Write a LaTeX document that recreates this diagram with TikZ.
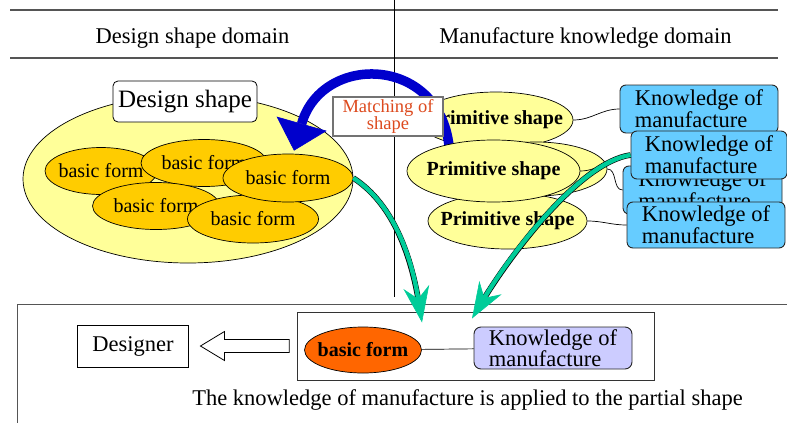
\documentclass[tikz,border=0pt]{standalone}
\usepackage{fontspec}
\setmainfont{Liberation Serif}
\usetikzlibrary{arrows.meta,shapes.geometric,calc}
\definecolor{paleyel}{HTML}{FFFF99}
\definecolor{formyel}{HTML}{FFCC00}
\definecolor{formorg}{HTML}{FF6600}
\definecolor{knowblu}{HTML}{66CCFF}
\definecolor{knowlav}{HTML}{CCCCFF}
\definecolor{matchblu}{HTML}{0000CC}
\definecolor{applygrn}{HTML}{00CC99}
\definecolor{matchred}{HTML}{DD4A1E}
\definecolor{rulegray}{HTML}{555555}
\pgfdeclarelayer{front}
\pgfsetlayers{main,front}

\begin{document}
\begin{tikzpicture}[x=1pt, y=-1pt,
  every node/.style={inner sep=0pt},
  lbl/.style={font=\fontsize{22.5}{18.5}\selectfont},
  hdrrule/.style={draw=rulegray, line width=1.2pt},
  formell/.style={ellipse, draw, line width=0.7pt, fill=formyel, inner xsep=-25pt,
                  font=\fontsize{20}{20}\selectfont},
  primell/.style={ellipse, draw, line width=0.7pt, fill=paleyel, inner xsep=-25pt,
                  font=\fontsize{20}{20}\selectfont\bfseries},
  knowbox/.style={rectangle, rounded corners=6pt, draw=black!85, line width=0.9pt,
                  fill=knowblu, align=left, minimum width=158pt, minimum height=48pt, lbl},
  link/.style={draw, line width=0.7pt},
  matchflow/.style={draw=matchblu, line width=9.5pt,
                    -{Triangle[length=28pt,width=52pt,line width=0.6pt]}},
  applyflow/.style={draw=applygrn, line width=4.4pt,
                    -{Stealth[length=36pt,width=26pt,inset=12pt,line width=0.6pt]},
                    preaction={draw=black, line width=5.6pt, -, shorten >=18pt}},
]
\useasboundingbox (0,0) rectangle (787,423);

% ---- domain header ----
\draw[hdrrule] (10,10) -- (778,10);
\draw[hdrrule] (10,58) -- (778,58);
\node[lbl, anchor=base] (dsdom) at (192.5,43) {Design shape domain};
\node[lbl, anchor=base] (mkdom) at (585.5,43) {Manufacture knowledge domain};
\draw[line width=0.8pt] (394,0) -- (394,297);

% ---- design shape made of basic forms ----
\node[ellipse, draw, line width=0.7pt, fill=paleyel, minimum width=330pt,
      minimum height=168pt] (dshape) at (188,179) {};
\node[draw, rounded corners=5pt, line width=0.8pt, fill=white, minimum width=144pt,
      minimum height=41pt, font=\fontsize{25}{25}\selectfont] (dlabel) at (185,101.5) {Design shape};
\node[formell, minimum width=112pt, minimum height=47pt] (bf1) at (101,171) {basic form};
\node[formell, minimum width=126pt, minimum height=47pt] (bf2) at (204,163) {basic form};
\node[formell, minimum width=127pt, minimum height=47pt] (bf4) at (156,206) {basic form};
\node[formell, minimum width=131pt, minimum height=48pt] (bf5) at (253,219) {basic form};
\node[formell, minimum width=130pt, minimum height=48pt] (bf3) at (288,178) {basic form};

% ---- primitive shapes and their knowledge ----
\node[primell, minimum width=154pt, minimum height=56pt] (prim1) at (496,120) {Primitive shape};
\node[primell, minimum width=142pt, minimum height=54pt] (prim2b) at (536,169) {};
\node[primell, minimum width=159pt, minimum height=56pt] (prim3) at (507.5,221) {Primitive shape};

\node[knowbox] (know1) at (699,109) {Knowledge of\\manufacture};
\node[knowbox, minimum width=159pt] (know3) at (702.5,190) {Knowledge of\\manufacture};
\node[knowbox, minimum width=156pt] (know2) at (709,155) {Knowledge of\\manufacture};
\node[knowbox, minimum height=46pt] (know4) at (706,225) {Knowledge of\\manufacture};

\begin{pgfonlayer}{front}
  \node[primell, minimum width=173pt, minimum height=62pt] (prim2) at (493.5,171) {Primitive shape};
  \node[draw=black!55, line width=1.2pt, fill=white, minimum width=110pt, minimum height=39pt,
        align=center, text=matchred, font=\fontsize{18.5}{14}\selectfont] (match) at (388,116.5)
        {Matching of\\shape};
\end{pgfonlayer}

\draw[link] (prim1.east) to[out=0, in=180] (know1.west);
\draw[link] (prim2.east) to[out=0, in=180] (know2.west);
\draw[link] (prim2b.east) to[out=0, in=180] (know3.west);
\draw[link] (prim3.east) to[out=0, in=180] (know4.west);

% ---- matching: primitive shape -> basic form ----
\draw[matchflow] ($(prim2.center)+(-44,-20)$) .. controls (443,55) and (322,52) .. ($(bf3.north)+(6,-3)$);

% ---- applied knowledge row ----
\draw[hdrrule, line width=1pt] (787,304) -- (17,304) -- (17,423);
\node[draw=black!80, line width=1pt, minimum width=357.5pt, minimum height=68pt] (appl) at (476,346) {};
\node[ellipse, draw, line width=0.7pt, fill=formorg, inner xsep=-25pt, minimum width=117pt,
      minimum height=46pt, font=\fontsize{20}{20}\selectfont\bfseries] (bfsel) at (363,350) {basic form};
\node[knowbox, fill=knowlav, minimum height=42pt, rounded corners=7pt,
      font=\fontsize{22.5}{21}\selectfont] (knowsel) at (553,348) {Knowledge of\\manufacture};
\draw[link] (bfsel) -- (knowsel);
\node[draw, line width=0.9pt, minimum width=111pt, minimum height=42pt, lbl] (designer) at (133,346) {Designer};

% hollow arrow back to the designer
\coordinate (hatail) at ($(appl.west)+(-7.5,0)$);
\coordinate (hatip) at ($(designer.east)+(11.5,0)$);
\draw[line width=0.8pt, fill=white] (hatip) -- ++(24,-14.5) -- ++(0,8) -- ($(hatail)+(0,-6.5)$)
  -- ($(hatail)+(0,6.5)$) -- ($(hatip)+(24,6.5)$) -- ++(0,8) -- cycle;

\node[lbl, anchor=base] (caption) at (467.5,405)
  {The knowledge of manufacture is applied to the partial shape};

% ---- form and knowledge brought together ----
\begin{pgfonlayer}{front}
  \draw[applyflow] (bf3.east) .. controls (395,205) and (412,260) .. ($(appl.north)+(-54,11)$);
  \draw[applyflow] (know2.west) .. controls (580,162) and (510,255) .. ($(appl.north)+(-4,7)$);
\end{pgfonlayer}
\end{tikzpicture}
\end{document}
